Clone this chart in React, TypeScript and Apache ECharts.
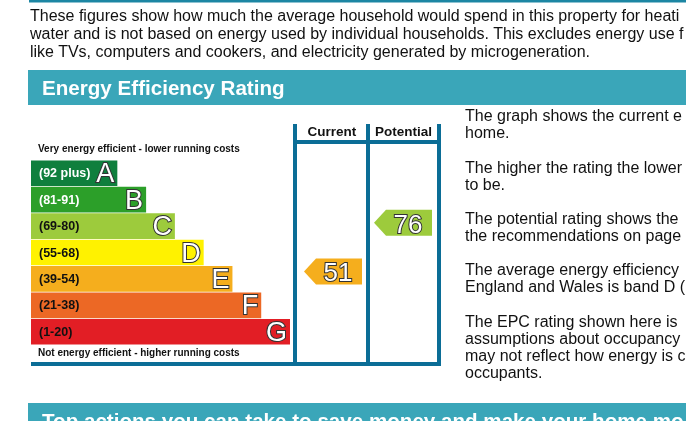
import React, { useEffect, useRef } from "react";
import * as echarts from "echarts";

// ---- data ----
const bandLetters = ["A", "B", "C", "D", "E", "F", "G"];
const bandRanges = ["(92 plus)", "(81-91)", "(69-80)", "(55-68)", "(39-54)", "(21-38)", "(1-20)"];
const bandMin = [92, 81, 69, 55, 39, 21, 1];
const bandMax = [100, 91, 80, 68, 54, 38, 20];
const bandLengths = [3, 4, 5, 6, 7, 8, 9];
const bandColors = ["#0f7f3d", "#2c9f29", "#9dcb3c", "#fff200", "#f5ae1d", "#ec6825", "#e21e25"];
const rangeTextColors = ["#ffffff", "#ffffff", "#111111", "#111111", "#111111", "#111111", "#111111"];

const ratingColumns = ["Current", "Potential"];
const ratingValues = [51, 76];

// visible part of each line (the page is cropped at the right edge)
const introLines = [
  "These figures show how much the average household would spend in this property for heati",
  "water and is not based on energy used by individual households. This excludes energy use f",
  "like TVs, computers and cookers, and electricity generated by microgeneration.",
];
const sectionTitle = "Energy Efficiency Rating";
const nextSectionTitle = "Top actions you can take to save money and make your home mo";
const topCaption = "Very energy efficient - lower running costs";
const bottomCaption = "Not energy efficient - higher running costs";
const sideParagraphs = [
  ["The graph shows the current e", "home."],
  ["The higher the rating the lower", "to be."],
  ["The potential rating shows the", "the recommendations on page"],
  ["The average energy efficiency", "England and Wales is band D ("],
  ["The EPC rating shown here is", "assumptions about occupancy", "may not reflect how energy is c", "occupants."],
];

const FONT = '"Liberation Sans", Arial, sans-serif';
const LINE_BLUE = "#0b6d96";
const TEAL = "#3aa6b9";

function bandPosition(v: number): number {
  for (let i = 0; i < bandMin.length; i++) {
    if (v >= bandMin[i] && v <= bandMax[i]) {
      return i + (bandMax[i] - v + 0.5) / (bandMax[i] - bandMin[i] + 1);
    }
  }
  return 0;
}

function bandColorFor(v: number): string {
  for (let i = 0; i < bandMin.length; i++) {
    if (v >= bandMin[i] && v <= bandMax[i]) return bandColors[i];
  }
  return "#999";
}

export default function App() {
  const ref = useRef<HTMLDivElement>(null);

  useEffect(() => {
    if (!ref.current) return;
    const chart = echarts.init(ref.current, undefined, { renderer: "svg" });

    const graphics: any[] = [];
    // top border line of previous table
    graphics.push({ type: "rect", shape: { x: 29, y: 0, width: 657, height: 2.5 }, style: { fill: "#1c86a3" } });
    introLines.forEach((t, i) => {
      graphics.push({
        type: "text",
        style: { text: t, x: 30, y: 15.2 + i * 18, fill: "#111", font: `16px ${FONT}`, verticalAlign: "middle" },
      });
    });
    // section header
    graphics.push({ type: "rect", shape: { x: 28, y: 70, width: 658, height: 35 }, style: { fill: TEAL } });
    graphics.push({
      type: "text",
      style: { text: sectionTitle, x: 42, y: 87.5, fill: "#fff", font: `bold 20.6px ${FONT}`, verticalAlign: "middle" },
    });
    // captions
    graphics.push({
      type: "text",
      style: { text: topCaption, x: 38, y: 148.3, fill: "#111", font: `bold 10px ${FONT}`, verticalAlign: "middle" },
    });
    graphics.push({
      type: "text",
      style: { text: bottomCaption, x: 38, y: 352.5, fill: "#111", font: `bold 10px ${FONT}`, verticalAlign: "middle" },
    });
    // column frame
    const frame = [
      { x: 293, y: 124, width: 4, height: 242 },
      { x: 366, y: 124, width: 4, height: 242 },
      { x: 437, y: 124, width: 4, height: 242 },
      { x: 293, y: 140, width: 148, height: 4 },
      { x: 31, y: 362, width: 410, height: 4 },
    ];
    frame.forEach((s) => graphics.push({ type: "rect", shape: s, style: { fill: LINE_BLUE } }));
    graphics.push({
      type: "text",
      style: { text: ratingColumns[0], x: 332, y: 131.5, fill: "#111", font: `bold 13.5px ${FONT}`, align: "center", verticalAlign: "middle" },
    });
    graphics.push({
      type: "text",
      style: { text: ratingColumns[1], x: 403.5, y: 131.5, fill: "#111", font: `bold 13.5px ${FONT}`, align: "center", verticalAlign: "middle" },
    });
    // side text
    let y = 115.8;
    sideParagraphs.forEach((para) => {
      para.forEach((line) => {
        graphics.push({
          type: "text",
          style: { text: line, x: 465, y, fill: "#111", font: `16px ${FONT}`, verticalAlign: "middle" },
        });
        y += 17.1;
      });
      y += 17.1;
    });
    // next section header
    graphics.push({ type: "rect", shape: { x: 28, y: 403, width: 658, height: 30 }, style: { fill: TEAL } });
    graphics.push({
      type: "text",
      style: { text: nextSectionTitle, x: 42, y: 420.5, fill: "#fff", font: `bold 20.6px ${FONT}`, verticalAlign: "middle" },
    });

    const arrowData = ratingValues.map((v, i) => ({ value: [i, bandPosition(v), v], itemStyle: { color: bandColorFor(v) } }));

    chart.setOption({
      animation: false,
      grid: [
        { left: 31, top: 160, width: 259, height: 185 },
        { left: 298, top: 160, width: 140, height: 185 },
      ],
      xAxis: [
        { type: "value", gridIndex: 0, min: 0, max: 9, show: false },
        { type: "category", gridIndex: 1, data: ratingColumns, show: false },
      ],
      yAxis: [
        { type: "category", gridIndex: 0, data: bandLetters, inverse: true, show: false },
        { type: "value", gridIndex: 1, min: 0, max: 7, inverse: true, show: false },
      ],
      series: [
        {
          type: "bar",
          xAxisIndex: 0,
          yAxisIndex: 0,
          barCategoryGap: "3%",
          data: bandLengths.map((v, i) => ({
            value: v,
            itemStyle: { color: bandColors[i] },
            label: { color: rangeTextColors[i] },
          })),
          label: {
            show: true,
            position: "insideLeft",
            distance: 8,
            formatter: (p: any) => bandRanges[p.dataIndex],
            fontFamily: FONT,
            fontWeight: "bold",
            fontSize: 12.5,
          },
        },
        {
          type: "bar",
          xAxisIndex: 0,
          yAxisIndex: 0,
          barGap: "-100%",
          barCategoryGap: "3%",
          data: bandLengths,
          itemStyle: { color: "rgba(0,0,0,0)" },
          label: {
            show: true,
            position: "insideRight",
            distance: 3,
            formatter: (p: any) => bandLetters[p.dataIndex],
            fontFamily: FONT,
            fontSize: 27,
            color: "#ffffff",
            textBorderColor: "#333333",
            textBorderWidth: 2,
          },
          z: 3,
        },
        {
          type: "custom",
          xAxisIndex: 1,
          yAxisIndex: 1,
          data: arrowData,
          renderItem: (params: any, api: any) => {
            const c = api.coord([api.value(0), api.value(1)]);
            const v = api.value(2);
            const color = api.visual("color");
            const h = 26;
            const w = 58;
            const tip = 12;
            const left = c[0] - w / 2;
            const right = c[0] + w / 2;
            return {
              type: "group",
              children: [
                {
                  type: "polygon",
                  shape: {
                    points: [
                      [left, c[1]],
                      [left + tip, c[1] - h / 2],
                      [right, c[1] - h / 2],
                      [right, c[1] + h / 2],
                      [left + tip, c[1] + h / 2],
                    ],
                  },
                  style: { fill: color },
                },
                {
                  type: "text",
                  style: {
                    text: String(v),
                    x: right - 24,
                    y: c[1] + 1,
                    align: "center",
                    verticalAlign: "middle",
                    fill: "#ffffff",
                    stroke: "#333333",
                    lineWidth: 2,
                    strokeFirst: true,
                    font: `26px ${FONT}`,
                  },
                },
              ],
            };
          },
        },
      ],
      graphic: graphics,
    });

    return () => chart.dispose();
  }, []);

  return <div ref={ref} style={{ position: "fixed", left: 0, top: 0, width: 686, height: 421 }} />;
}
